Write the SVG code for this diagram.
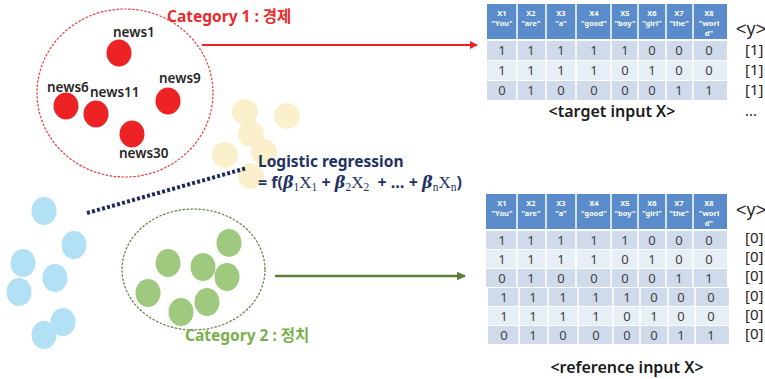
<svg xmlns="http://www.w3.org/2000/svg" width="765" height="379" viewBox="0 0 765 379">
<defs>
<style>
text{font-family:"Noto Sans","Noto Sans CJK KR",sans-serif}
.news{font-size:13.5px;fill:#262626;font-weight:600}
.red{fill:#ec2224}
.blue{fill:#b2e0f4}
.cream{fill:#fbf0cc}
.green{fill:#9fc97f}
.cat1{font-size:15.5px;font-weight:700;fill:#ec2a2c}
.cat2{font-size:15.5px;font-weight:700;fill:#77b04a}
.lr{font-size:15.5px;font-weight:700;fill:#1f3263}
.fx{font-size:16px}
.beta{font-family:"DejaVu Serif","Liberation Serif",serif;font-style:italic;font-weight:700}
.mx{font-family:"Liberation Serif",serif;font-weight:400;font-size:17px}
.sub{font-family:"Liberation Serif",serif;font-weight:400;font-size:11.5px}
.hdr{fill:#5a8ccb}
.dk{fill:#cfdbeb}
.lt{fill:#e8eef6}
.sep{stroke:#ffffff;stroke-width:1.5}
.ht{font-size:7.5px;font-weight:700;fill:#ffffff;text-anchor:middle}
.dt{font-size:13px;fill:#404040;text-anchor:middle}
.yl{font-family:"Liberation Sans",sans-serif;font-size:15px;fill:#262626}
.yh{font-family:"Liberation Sans",sans-serif;font-size:18px;fill:#262626}
.cap{font-size:16px;font-weight:600;fill:#1a1a1a;text-anchor:middle}
</style>
<marker id="ahRed" viewBox="0 0 10 10" refX="9" refY="5" markerWidth="4" markerHeight="4" orient="auto" markerUnits="strokeWidth">
<path d="M0,0 L10,5 L0,10 z" fill="#ec2224"/>
</marker>
<marker id="ahGreen" viewBox="0 0 10 10" refX="9" refY="5" markerWidth="3.5" markerHeight="3.5" orient="auto" markerUnits="strokeWidth">
<path d="M0,0 L10,5 L0,10 z" fill="#5b7d39"/>
</marker>
</defs>
<rect width="765" height="379" fill="#ffffff"/>

<g id="cream-points">
<circle class="cream" cx="245" cy="112" r="13"/>
<circle class="cream" cx="287" cy="116" r="13"/>
<circle class="cream" cx="251" cy="134" r="13"/>
<circle class="cream" cx="225" cy="155" r="13"/>
<circle class="cream" cx="264" cy="152" r="13"/>
<circle class="cream" cx="251" cy="176" r="13"/>
</g>

<g id="category1">
<ellipse cx="125" cy="93" rx="88" ry="84" fill="none" stroke="#ec3a3c" stroke-width="1.2" stroke-dasharray="2.5 1.5"/>
<text class="cat1" x="167" y="22">Category 1 : 경제</text>
</g>
<g id="news1"><ellipse class="red" cx="119" cy="53" rx="12.5" ry="13.5"/><text class="news" x="113" y="37">news1</text></g>
<g id="news6"><ellipse class="red" cx="66" cy="106" rx="12.5" ry="13.5"/><text class="news" x="47" y="92">news6</text></g>
<g id="news11"><ellipse class="red" cx="96" cy="114" rx="12.5" ry="13.5"/><text class="news" x="90" y="97">news11</text></g>
<g id="news9"><ellipse class="red" cx="168" cy="101" rx="12.5" ry="13.5"/><text class="news" x="159" y="83">news9</text></g>
<g id="news30"><ellipse class="red" cx="132" cy="134" rx="12.5" ry="13.5"/><text class="news" x="119" y="158">news30</text></g>

<g id="blue-points">
<ellipse class="blue" cx="44" cy="211" rx="12.5" ry="14"/>
<ellipse class="blue" cx="74" cy="245" rx="12.5" ry="14"/>
<ellipse class="blue" cx="23" cy="263" rx="12.5" ry="14"/>
<ellipse class="blue" cx="55" cy="278" rx="12.5" ry="14"/>
<ellipse class="blue" cx="19" cy="292" rx="12.5" ry="14"/>
<ellipse class="blue" cx="63" cy="322" rx="12.5" ry="14"/>
<ellipse class="blue" cx="44" cy="335" rx="12.5" ry="14"/>
</g>

<g id="category2">
<ellipse cx="193.5" cy="269.5" rx="71.5" ry="60.5" fill="none" stroke="#5e7f3c" stroke-width="1.2" stroke-dasharray="2.5 1.5"/>
<ellipse class="green" cx="168" cy="263" rx="12.5" ry="14"/>
<ellipse class="green" cx="203" cy="267" rx="12.5" ry="14"/>
<ellipse class="green" cx="229" cy="243" rx="12.5" ry="14"/>
<ellipse class="green" cx="227" cy="277" rx="12.5" ry="14"/>
<ellipse class="green" cx="148" cy="293" rx="12.5" ry="14"/>
<ellipse class="green" cx="207" cy="302" rx="12.5" ry="14"/>
<ellipse class="green" cx="181" cy="312" rx="12.5" ry="14"/>
<text class="cat2" x="185" y="341">Category 2 : 정치</text>
</g>

<g id="logistic-regression">
<text class="lr" x="258" y="167">Logistic regression</text>
<text class="lr fx" x="258" y="188" xml:space="preserve">= f(<tspan class="beta">β</tspan><tspan class="sub" dy="3">1</tspan><tspan class="mx" dy="-3">X</tspan><tspan class="sub" dy="3">1</tspan><tspan dy="-3"> + </tspan><tspan class="beta">β</tspan><tspan class="sub" dy="3">2</tspan><tspan class="mx" dy="-3">X</tspan><tspan class="sub" dy="3">2</tspan><tspan dy="-3">  + … + </tspan><tspan class="beta">β</tspan><tspan class="sub" dy="3">n</tspan><tspan class="mx" dy="-3">X</tspan><tspan class="sub" dy="3">n</tspan><tspan dy="-3">)</tspan></text>
</g>

<g id="connectors">
<line x1="202" y1="45" x2="477" y2="45" stroke="#ec2224" stroke-width="2" marker-end="url(#ahRed)"/>
<line x1="275" y1="276" x2="465" y2="276" stroke="#5b7d39" stroke-width="2.5" marker-end="url(#ahGreen)"/>
<line x1="87" y1="213" x2="247" y2="168" stroke="#1f2a5a" stroke-width="4" stroke-dasharray="3 2.2"/>
</g>

<g id="target-table">
<rect class="hdr" x="487" y="4" width="240" height="35"/>
<rect class="dk" x="487" y="41" width="240" height="19"/>
<rect class="lt" x="487" y="61" width="240" height="19"/>
<rect class="dk" x="487" y="81" width="240" height="19"/>
<g class="sep">
<line x1="517" y1="4" x2="517" y2="100"/><line x1="546" y1="4" x2="546" y2="100"/><line x1="576" y1="4" x2="576" y2="100"/><line x1="611" y1="4" x2="611" y2="100"/><line x1="638" y1="4" x2="638" y2="100"/><line x1="666" y1="4" x2="666" y2="100"/><line x1="693" y1="4" x2="693" y2="100"/>
</g>
<g class="ht">
<text x="502" y="16">X1</text><text x="502" y="26">"You"</text>
<text x="531" y="16">X2</text><text x="531" y="26">"are"</text>
<text x="561" y="16">X3</text><text x="561" y="26">"a"</text>
<text x="594" y="16">X4</text><text x="594" y="26">"good"</text>
<text x="625" y="16">X5</text><text x="625" y="26">"boy"</text>
<text x="652" y="16">X6</text><text x="652" y="26">"girl"</text>
<text x="679" y="16">X7</text><text x="679" y="26">"the"</text>
<text x="709" y="16">X8</text><text x="709" y="26">"worl</text><text x="709" y="36">d"</text>
</g>
<g class="dt">
<text x="502" y="55">1</text><text x="531" y="55">1</text><text x="561" y="55">1</text><text x="594" y="55">1</text><text x="625" y="55">1</text><text x="652" y="55">0</text><text x="679" y="55">0</text><text x="709" y="55">0</text>
<text x="502" y="75">1</text><text x="531" y="75">1</text><text x="561" y="75">1</text><text x="594" y="75">1</text><text x="625" y="75">0</text><text x="652" y="75">1</text><text x="679" y="75">0</text><text x="709" y="75">0</text>
<text x="502" y="95">0</text><text x="531" y="95">1</text><text x="561" y="95">0</text><text x="594" y="95">0</text><text x="625" y="95">0</text><text x="652" y="95">0</text><text x="679" y="95">1</text><text x="709" y="95">1</text>
</g>
<text class="yh" x="736" y="35">&lt;y&gt;</text>
<g class="yl">
<text x="745" y="55">[1]</text>
<text x="745" y="75">[1]</text>
<text x="745" y="95">[1]</text>
<text x="745" y="116">...</text>
</g>
<text class="cap" x="612" y="117">&lt;target input X&gt;</text>
</g>

<g id="reference-table">
<rect class="hdr" x="486" y="194" width="241" height="35"/>
<rect class="dk" x="486" y="231" width="241" height="18"/>
<rect class="lt" x="486" y="250" width="241" height="18"/>
<rect class="dk" x="486" y="269" width="241" height="18"/>
<g class="sep">
<line x1="517" y1="194" x2="517" y2="287"/><line x1="546" y1="194" x2="546" y2="287"/><line x1="576" y1="194" x2="576" y2="287"/><line x1="611" y1="194" x2="611" y2="287"/><line x1="638" y1="194" x2="638" y2="287"/><line x1="666" y1="194" x2="666" y2="287"/><line x1="693" y1="194" x2="693" y2="287"/>
</g>
<g transform="translate(2,0)">
<rect class="dk" x="486" y="288" width="241" height="18"/>
<rect class="lt" x="486" y="307" width="241" height="18"/>
<rect class="dk" x="486" y="326" width="241" height="18"/>
<g class="sep">
<line x1="517" y1="288" x2="517" y2="344"/><line x1="546" y1="288" x2="546" y2="344"/><line x1="576" y1="288" x2="576" y2="344"/><line x1="611" y1="288" x2="611" y2="344"/><line x1="638" y1="288" x2="638" y2="344"/><line x1="666" y1="288" x2="666" y2="344"/><line x1="693" y1="288" x2="693" y2="344"/>
</g>
</g>
<g class="ht">
<text x="502" y="206">X1</text><text x="502" y="216">"You"</text>
<text x="531" y="206">X2</text><text x="531" y="216">"are"</text>
<text x="561" y="206">X3</text><text x="561" y="216">"a"</text>
<text x="594" y="206">X4</text><text x="594" y="216">"good"</text>
<text x="625" y="206">X5</text><text x="625" y="216">"boy"</text>
<text x="652" y="206">X6</text><text x="652" y="216">"girl"</text>
<text x="679" y="206">X7</text><text x="679" y="216">"the"</text>
<text x="709" y="206">X8</text><text x="709" y="216">"worl</text><text x="709" y="226">d"</text>
</g>
<g class="dt">
<text x="502" y="245">1</text><text x="531" y="245">1</text><text x="561" y="245">1</text><text x="594" y="245">1</text><text x="625" y="245">1</text><text x="652" y="245">0</text><text x="679" y="245">0</text><text x="709" y="245">0</text>
<text x="502" y="264">1</text><text x="531" y="264">1</text><text x="561" y="264">1</text><text x="594" y="264">1</text><text x="625" y="264">0</text><text x="652" y="264">1</text><text x="679" y="264">0</text><text x="709" y="264">0</text>
<text x="502" y="283">0</text><text x="531" y="283">1</text><text x="561" y="283">0</text><text x="594" y="283">0</text><text x="625" y="283">0</text><text x="652" y="283">0</text><text x="679" y="283">1</text><text x="709" y="283">1</text>
<text x="504" y="302">1</text><text x="533" y="302">1</text><text x="563" y="302">1</text><text x="596" y="302">1</text><text x="627" y="302">1</text><text x="654" y="302">0</text><text x="681" y="302">0</text><text x="711" y="302">0</text>
<text x="504" y="321">1</text><text x="533" y="321">1</text><text x="563" y="321">1</text><text x="596" y="321">1</text><text x="627" y="321">0</text><text x="654" y="321">1</text><text x="681" y="321">0</text><text x="711" y="321">0</text>
<text x="504" y="340">0</text><text x="533" y="340">1</text><text x="563" y="340">0</text><text x="596" y="340">0</text><text x="627" y="340">0</text><text x="654" y="340">0</text><text x="681" y="340">1</text><text x="711" y="340">1</text>
</g>
<text class="yh" x="736" y="216">&lt;y&gt;</text>
<g class="yl">
<text x="745" y="243">[0]</text>
<text x="745" y="262">[0]</text>
<text x="745" y="281">[0]</text>
<text x="745" y="301">[0]</text>
<text x="745" y="320">[0]</text>
<text x="745" y="339">[0]</text>
</g>
<text class="cap" x="627" y="373">&lt;reference input X&gt;</text>
</g>
</svg>
